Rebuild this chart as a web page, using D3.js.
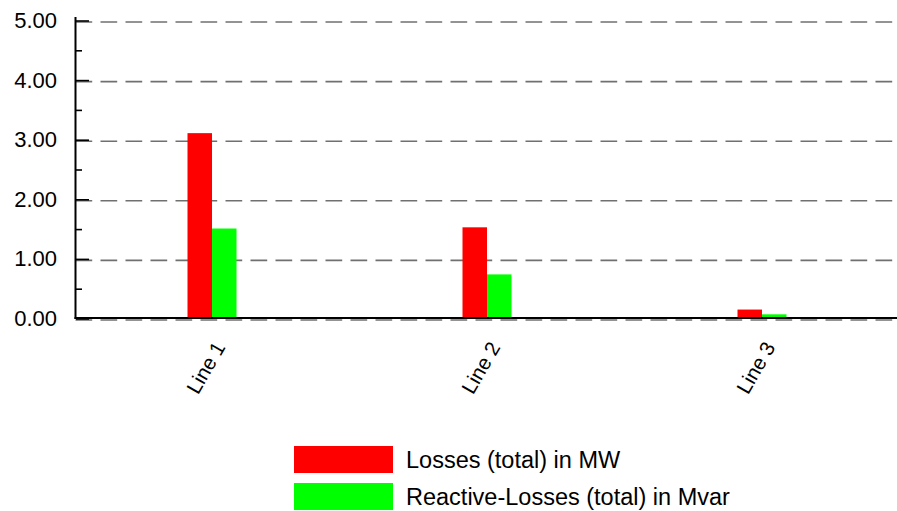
<!DOCTYPE html>
<html>
<head>
<meta charset="utf-8">
<script src="https://cdn.jsdelivr.net/npm/d3@7"></script>
<style>
  html, body { margin: 0; padding: 0; background: #fff; }
  svg { display: block; font-family: "Liberation Sans", Arial, sans-serif; }
</style>
</head>
<body>
<svg id="chart" width="897" height="511"></svg>
<script>
// Line losses per branch
const categories = ["Line 1", "Line 2", "Line 3"];
const seriesNames = ["Losses (total) in MW", "Reactive-Losses (total) in Mvar"];
const lossesMW = [3.11, 1.53, 0.15];
const reactiveLossesMvar = [1.51, 0.74, 0.07];
const seriesColors = ["#ff0000", "#00ff00"];
const yTicks = [0, 1, 2, 3, 4, 5];
const yMinorTicks = [0.5, 1.5, 2.5, 3.5, 4.5];

const seriesValues = [lossesMW, reactiveLossesMvar];

const svg = d3.select("#chart");
const W = 897;
const plotLeft = 76, plotRight = 897, plotTop = 20.5, plotBottom = 318.5;

const y = d3.scaleLinear().domain([0, 5]).range([plotBottom, plotTop]);
const x0 = d3.scaleBand()
  .domain(categories)
  .range([74.5, 899.5])
  .paddingInner(0.8218)
  .paddingOuter(0.4109);
const x1 = d3.scaleBand()
  .domain(d3.range(seriesValues.length))
  .range([0, x0.bandwidth()]);

// dashed horizontal gridlines
svg.append("g")
  .selectAll("line")
  .data(yTicks)
  .join("line")
  .attr("x1", 75.5)
  .attr("x2", plotRight)
  .attr("y1", d => y(d) + 1.5)
  .attr("y2", d => y(d) + 1.5)
  .attr("stroke", "#707070")
  .attr("stroke-width", 1.6)
  .attr("stroke-dasharray", "16.7,8.3");

// bars
const groups = svg.append("g")
  .selectAll("g")
  .data(categories)
  .join("g")
  .attr("transform", d => `translate(${x0(d)},0)`);

groups.selectAll("rect")
  .data((c, i) => seriesValues.map((vals, s) => ({ s, v: vals[i] })))
  .join("rect")
  .attr("x", d => x1(d.s))
  .attr("width", x1.bandwidth())
  .attr("y", d => y(d.v))
  .attr("height", d => y(0) - y(d.v))
  .attr("fill", d => seriesColors[d.s]);

// y axis: major ticks with labels
const yAxis = d3.axisLeft(y)
  .tickValues(yTicks)
  .tickFormat(d3.format(".2f"))
  .tickSizeInner(-13)
  .tickSizeOuter(0)
  .tickPadding(19);

const gy = svg.append("g")
  .attr("transform", `translate(${plotLeft},0)`)
  .call(yAxis);
gy.select(".domain").remove();
gy.selectAll(".tick line").attr("stroke", "#000").attr("stroke-width", 1.6);
gy.selectAll(".tick text")
  .attr("font-size", 22)
  .attr("fill", "#000")
  .attr("font-family", "'Liberation Sans', Arial, sans-serif");

// y axis: minor ticks
const yMinor = d3.axisLeft(y)
  .tickValues(yMinorTicks)
  .tickFormat("")
  .tickSizeInner(-6)
  .tickSizeOuter(0);
const gym = svg.append("g")
  .attr("transform", `translate(${plotLeft},0)`)
  .call(yMinor);
gym.select(".domain").remove();
gym.selectAll(".tick line").attr("stroke", "#000").attr("stroke-width", 1.6);

// axis lines
svg.append("line")
  .attr("x1", plotLeft - 0.5).attr("x2", plotLeft - 0.5)
  .attr("y1", 17).attr("y2", 319)
  .attr("stroke", "#000").attr("stroke-width", 2);
svg.append("line")
  .attr("x1", plotLeft - 1.5).attr("x2", W)
  .attr("y1", 318).attr("y2", 318)
  .attr("stroke", "#000").attr("stroke-width", 2);

// rotated category labels
svg.append("g")
  .selectAll("text")
  .data(categories)
  .join("text")
  .attr("transform", d => `translate(${x0(d) + x0.bandwidth() / 2 + 14},347) rotate(-60)`)
  .attr("text-anchor", "end")
  .attr("font-size", 20.5)
  .attr("fill", "#000")
  .text(d => d);

// legend
const legend = svg.append("g")
  .selectAll("g")
  .data(seriesNames)
  .join("g")
  .attr("transform", (d, i) => `translate(294,${446 + i * 37})`);
legend.append("rect")
  .attr("width", 99)
  .attr("height", 27)
  .attr("fill", (d, i) => seriesColors[i]);
legend.append("text")
  .attr("x", 112)
  .attr("y", 22)
  .attr("font-size", 23.5)
  .attr("fill", "#000")
  .text(d => d);
</script>
</body>
</html>
